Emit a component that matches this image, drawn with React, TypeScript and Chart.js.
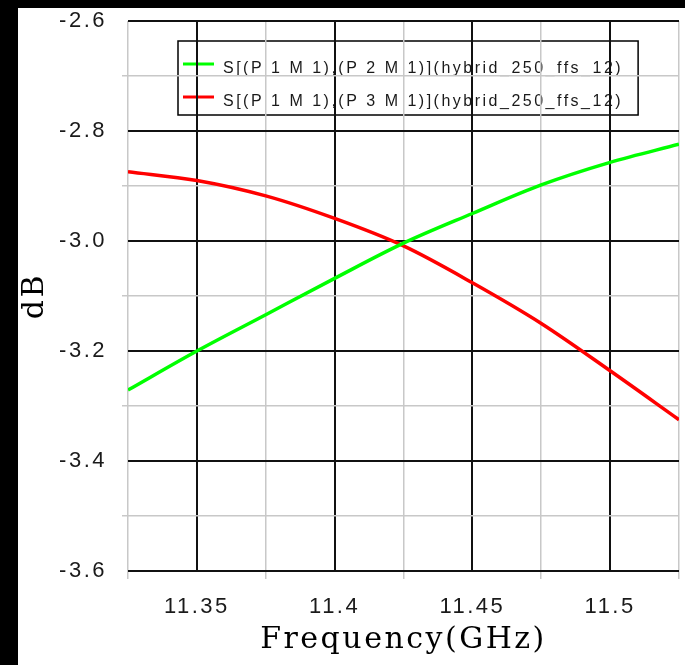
import React, { useEffect, useRef } from "react";
import { Chart, registerables } from "chart.js";

Chart.register(...registerables);

// Frequency sweep (GHz)
const frequencies = [11.325, 11.35, 11.375, 11.4, 11.425, 11.45, 11.475, 11.5, 11.525];
// Coupled-port transmission, dB
const s21 = [-3.271, -3.2, -3.134, -3.068, -3.004, -2.95, -2.898, -2.857, -2.824];
const s31 = [-2.874, -2.89, -2.918, -2.959, -3.009, -3.076, -3.15, -3.236, -3.325];

const seriesLabels = [
  "S[(P 1 M 1),(P 2 M 1)](hybrid_250_ffs_12)",
  "S[(P 1 M 1),(P 3 M 1)](hybrid_250_ffs_12)",
];
const seriesColors = ["#00ff00", "#ff0000"];

// Labelled (major) ticks; the rest are minor grid steps
const xMajorTicks = [11.35, 11.4, 11.45, 11.5];
const yMajorTicks = [-2.6, -2.8, -3.0, -3.2, -3.4, -3.6];

const xTitle = "Frequency(GHz)";
const yTitle = "dB";

const isMajor = (v: number, list: number[]) => list.some((m) => Math.abs(m - v) < 1e-6);

const MAJOR = "#111111";
const MINOR = "#c8c8c8";

// Legend box drawn before the grid so grid lines pass over it
const boxedLegend = {
  id: "boxedLegend",
  beforeDraw(chart: any) {
    const { ctx, chartArea } = chart;
    ctx.letterSpacing = "2.5px";
    ctx.save();
    const left = chartArea.left + 50;
    const top = chartArea.top + 20;
    ctx.font = '16px "Liberation Sans", Arial, sans-serif';
    const widths = chart.data.datasets.map((d: any) => ctx.measureText(d.label).width);
    const textX = left + 45;
    const boxW = textX - left + Math.max(...widths) + 15;
    const boxH = 74;
    ctx.strokeStyle = "#000";
    ctx.lineWidth = 1.5;
    ctx.strokeRect(left, top, boxW, boxH);
    chart.data.datasets.forEach((d: any, i: number) => {
      const base = top + 32 + i * 33;
      ctx.strokeStyle = d.borderColor;
      ctx.lineWidth = 3;
      ctx.beginPath();
      ctx.moveTo(left + 5, base - 9);
      ctx.lineTo(left + 36, base - 9);
      ctx.stroke();
      ctx.fillStyle = "#1a1a1a";
      ctx.textBaseline = "alphabetic";
      ctx.textAlign = "left";
      ctx.fillText(d.label, textX, base);
    });
    ctx.restore();
  },
};

const noScalePadding = (s: any) => {
  s.paddingTop = 0;
  s.paddingBottom = 0;
  s.paddingLeft = 0;
  s.paddingRight = 0;
};

export default function App() {
  const ref = useRef<HTMLCanvasElement | null>(null);

  useEffect(() => {
    if (!ref.current) return;
    const chart = new Chart(ref.current, {
      type: "line",
      data: {
        datasets: [s21, s31].map((vals, i) => ({
          label: seriesLabels[i],
          data: frequencies.map((f, j) => ({ x: f, y: vals[j] })),
          borderColor: seriesColors[i],
          backgroundColor: seriesColors[i],
          borderWidth: 3.5,
          pointRadius: 0,
          cubicInterpolationMode: "monotone" as const,
          fill: false,
        })),
      },
      options: {
        responsive: false,
        animation: false,
        devicePixelRatio: 1,
        layout: { padding: { top: 13, right: 6, left: 0, bottom: 0 } },
        plugins: {
          legend: { display: false },
          tooltip: { enabled: false },
        },
        scales: {
          x: {
            type: "linear",
            min: 11.325,
            max: 11.525,
            afterFit: (s: any) => {
              s.height = 94;
              noScalePadding(s);
            },
            border: { display: false },
            grid: {
              color: (c: any) => (isMajor(c.tick.value, xMajorTicks) ? MAJOR : MINOR),
              lineWidth: (c: any) => (isMajor(c.tick.value, xMajorTicks) ? 2 : 1.5),
              tickLength: 8,
              tickColor: (c: any) => (isMajor(c.tick.value, xMajorTicks) ? "rgba(0,0,0,0)" : MINOR),
            },
            ticks: {
              stepSize: 0.025,
              autoSkip: false,
              maxRotation: 0,
              padding: 15,
              color: "#1a1a1a",
              font: { family: '"Liberation Sans", Arial, sans-serif', size: 22 },
              callback: (v: any) => (isMajor(Number(v), xMajorTicks) ? String(+Number(v).toFixed(3)) : ""),
            },
            title: {
              display: true,
              text: xTitle,
              color: "#000",
              font: { family: '"DejaVu Serif", serif', size: 30 },
              padding: { top: 0, bottom: 7 },
            },
          },
          y: {
            type: "linear",
            min: -3.6,
            max: -2.6,
            afterFit: (s: any) => {
              s.width = 110;
              noScalePadding(s);
            },
            border: { display: false },
            grid: {
              color: (c: any) => (isMajor(c.tick.value, yMajorTicks) ? MAJOR : MINOR),
              lineWidth: (c: any) => (isMajor(c.tick.value, yMajorTicks) ? 2 : 1.5),
              tickLength: 6,
              tickColor: (c: any) => (isMajor(c.tick.value, yMajorTicks) ? "rgba(0,0,0,0)" : MINOR),
            },
            ticks: {
              stepSize: 0.1,
              autoSkip: false,
              padding: 15,
              color: "#1a1a1a",
              font: { family: '"Liberation Sans", Arial, sans-serif', size: 22 },
              callback: (v: any) => (isMajor(Number(v), yMajorTicks) ? Number(v).toFixed(1) : ""),
            },
            title: {
              display: true,
              text: yTitle,
              color: "#000",
              font: { family: '"DejaVu Serif", serif', size: 30, lineHeight: 1 },
              padding: { top: 2, bottom: 0 },
            },
          },
        },
      },
      plugins: [boxedLegend],
    });
    return () => chart.destroy();
  }, []);

  return (
    <div style={{ position: "fixed", inset: 0, background: "#000" }}>
      <canvas
        ref={ref}
        width={667}
        height={657}
        style={{ position: "absolute", left: 18, top: 8, width: 667, height: 657, background: "#fff" }}
      />
    </div>
  );
}
